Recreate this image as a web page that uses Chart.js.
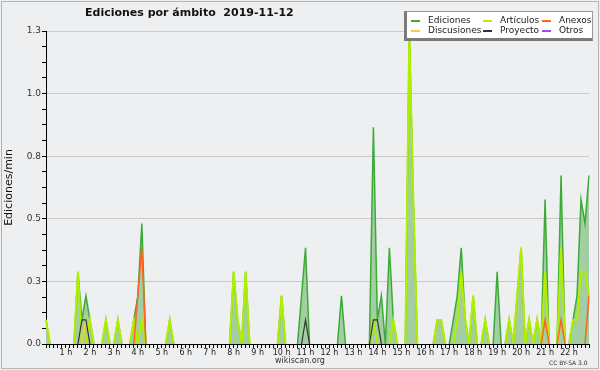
<!DOCTYPE html>
<html>
<head>
<meta charset="utf-8">
<script src="https://cdn.jsdelivr.net/npm/chart.js@4.4.1/dist/chart.umd.min.js"></script>
<style>
  body { margin: 0; background: #eeeff1; }
  #wrap { position: relative; width: 600px; height: 370px; background: #eeeff1; font-family: "DejaVu Sans", sans-serif; overflow: hidden; }
  #frame { position: absolute; left: 1px; top: 1px; width: 596px; height: 366px; border: 1px solid #b4b4b4; pointer-events: none; }
  canvas { position: absolute; left: 0; top: 0; }
  #title { position: absolute; left: 85px; top: 6px; font-size: 11px; font-weight: bold; white-space: pre; color: #111; }
  #legend { position: absolute; left: 404px; top: 11px; width: 185px; height: 26px; background: #fff;
            border-top: 1px solid #999; border-right: 1px solid #999; border-left: 3px solid #7a7a7a; border-bottom: 3px solid #7a7a7a; }
  .item { position: absolute; font-size: 9px; line-height: 10px; color: #222; white-space: nowrap; }
  .swatch { position: absolute; width: 9px; height: 1.5px; }
  #site { position: absolute; left: 0; width: 600px; top: 356px; text-align: center; font-size: 8px; color: #333; }
  #lic { position: absolute; left: 549px; top: 359px; font-size: 6px; color: #333; }
</style>
</head>
<body>
<div id="wrap">
  <canvas id="chart" width="600" height="370"></canvas>
  <div id="title">Ediciones por ámbito  2019-11-12</div>
  <div id="legend"></div>
  <div id="site">wikiscan.org</div>
  <div id="lic">CC BY-SA 3.0</div>
  <div id="frame"></div>
</div>
<script>
// Ediciones por minuto, un valor cada 10 minutos (00:00 -> 22:40)
const ediciones = [
  0.1, 0, 0, 0, 0, 0, 0, 0, 0.3, 0.1, 0.2, 0.1,
  0, 0, 0, 0.1, 0, 0, 0.1, 0, 0, 0, 0.1, 0.2,
  0.5, 0, 0, 0, 0, 0, 0, 0.1, 0, 0, 0, 0,
  0, 0, 0, 0, 0, 0, 0, 0, 0, 0, 0, 0.3,
  0.1, 0, 0.3, 0, 0, 0, 0, 0, 0, 0, 0, 0.2,
  0, 0, 0, 0, 0.2, 0.4, 0, 0, 0, 0, 0, 0,
  0, 0, 0.2, 0, 0, 0, 0, 0, 0, 0, 0.9, 0.1,
  0.2, 0, 0.4, 0.1, 0, 0, 0, 1.3, 0.6, 0, 0, 0,
  0, 0, 0.1, 0.1, 0, 0, 0.1, 0.2, 0.4, 0.1, 0, 0.2,
  0, 0, 0.1, 0, 0, 0.3, 0, 0, 0.1, 0, 0.2, 0.4,
  0, 0.1, 0, 0.1, 0, 0.6, 0, 0, 0, 0.7, 0, 0,
  0.1, 0.2, 0.6, 0.5, 0.7
];
const articulos = [
  0.1, 0, 0, 0, 0, 0, 0, 0, 0.3, 0, 0, 0.1,
  0, 0, 0, 0.1, 0, 0, 0.1, 0, 0, 0, 0.1, 0,
  0.1, 0, 0, 0, 0, 0, 0, 0.1, 0, 0, 0, 0,
  0, 0, 0, 0, 0, 0, 0, 0, 0, 0, 0, 0.3,
  0.1, 0, 0.3, 0, 0, 0, 0, 0, 0, 0, 0, 0.2,
  0, 0, 0, 0, 0, 0, 0, 0, 0, 0, 0, 0,
  0, 0, 0, 0, 0, 0, 0, 0, 0, 0, 0.1, 0,
  0, 0, 0, 0.1, 0, 0, 0, 1.3, 0.6, 0, 0, 0,
  0, 0, 0.1, 0.1, 0, 0, 0, 0.1, 0.3, 0.1, 0, 0.2,
  0, 0, 0.1, 0, 0, 0, 0, 0, 0.1, 0, 0.2, 0.4,
  0, 0.1, 0, 0.1, 0, 0.3, 0, 0, 0, 0.4, 0, 0,
  0.1, 0.1, 0.3, 0.3, 0.2
];
const anexos = [
  0, 0, 0, 0, 0, 0, 0, 0, 0, 0, 0, 0,
  0, 0, 0, 0, 0, 0, 0, 0, 0, 0, 0, 0.2,
  0.4, 0, 0, 0, 0, 0, 0, 0, 0, 0, 0, 0,
  0, 0, 0, 0, 0, 0, 0, 0, 0, 0, 0, 0,
  0, 0, 0, 0, 0, 0, 0, 0, 0, 0, 0, 0,
  0, 0, 0, 0, 0, 0, 0, 0, 0, 0, 0, 0,
  0, 0, 0, 0, 0, 0, 0, 0, 0, 0, 0, 0,
  0, 0, 0, 0, 0, 0, 0, 0, 0, 0, 0, 0,
  0, 0, 0, 0, 0, 0, 0, 0, 0, 0, 0, 0,
  0, 0, 0, 0, 0, 0, 0, 0, 0, 0, 0, 0,
  0, 0, 0, 0, 0, 0.1, 0, 0, 0, 0.1, 0, 0,
  0, 0, 0, 0, 0.2
];
const discusiones = [
  0, 0, 0, 0, 0, 0, 0, 0, 0, 0, 0.1, 0,
  0, 0, 0, 0, 0, 0, 0, 0, 0, 0, 0, 0,
  0, 0, 0, 0, 0, 0, 0, 0, 0, 0, 0, 0,
  0, 0, 0, 0, 0, 0, 0, 0, 0, 0, 0, 0,
  0, 0, 0, 0, 0, 0, 0, 0, 0, 0, 0, 0,
  0, 0, 0, 0, 0, 0, 0, 0, 0, 0, 0, 0,
  0, 0, 0, 0, 0, 0, 0, 0, 0, 0, 0, 0,
  0, 0, 0, 0, 0, 0, 0, 0, 0, 0, 0, 0,
  0, 0, 0, 0, 0, 0, 0, 0, 0, 0, 0, 0,
  0, 0, 0, 0, 0, 0, 0, 0, 0, 0, 0, 0,
  0, 0, 0, 0, 0, 0, 0, 0, 0, 0, 0, 0,
  0, 0, 0, 0, 0
];
const proyecto = [
  0, 0, 0, 0, 0, 0, 0, 0, 0, 0.1, 0.1, 0,
  0, 0, 0, 0, 0, 0, 0, 0, 0, 0, 0, 0,
  0, 0, 0, 0, 0, 0, 0, 0, 0, 0, 0, 0,
  0, 0, 0, 0, 0, 0, 0, 0, 0, 0, 0, 0,
  0, 0, 0, 0, 0, 0, 0, 0, 0, 0, 0, 0,
  0, 0, 0, 0, 0, 0.1, 0, 0, 0, 0, 0, 0,
  0, 0, 0, 0, 0, 0, 0, 0, 0, 0, 0.1, 0.1,
  0, 0, 0, 0, 0, 0, 0, 0, 0, 0, 0, 0,
  0, 0, 0, 0, 0, 0, 0, 0, 0, 0, 0, 0,
  0, 0, 0, 0, 0, 0, 0, 0, 0, 0, 0, 0,
  0, 0, 0, 0, 0, 0, 0, 0, 0, 0, 0, 0,
  0, 0, 0, 0, 0
];
const otros = ediciones.map(() => 0); // sin ediciones en "Otros"

// etiquetas de las horas (una cada 6 intervalos de 10 min)
const hourLabels = ['1 h', '2 h', '3 h', '4 h', '5 h', '6 h', '7 h', '8 h', '9 h', '10 h', '11 h',
  '12 h', '13 h', '14 h', '15 h', '16 h', '17 h', '18 h', '19 h', '20 h', '21 h', '22 h'];
const yTickValues = [0, 0.26, 0.52, 0.78, 1.04, 1.3];
const yTickLabels = ['0.0', '0.3', '0.5', '0.8', '1.0', '1.3'];

const slots = ediciones.map((_, i) => String(Math.floor(i / 6)).padStart(2, '0') + ':' + (i % 6) + '0');

const series = [
  { name: 'Ediciones', data: ediciones, color: '#3cab38', width: 1.5, order: 6 },
  { name: 'Artículos', data: articulos, color: '#b2ee00', width: 2, order: 5 },
  { name: 'Anexos', data: anexos, color: '#ff6420', width: 1.5, order: 3 },
  { name: 'Discusiones', data: discusiones, color: '#ffcc33', width: 1.5, order: 4 },
  { name: 'Proyecto', data: proyecto, color: '#333333', width: 1.2, order: 2 },
  { name: 'Otros', data: otros, color: '#9a4df0', width: 1.5, order: 1 }
];

// ocultar tramos en cero (quedan bajo el eje)
const hideZero = (ctx) => (ctx.p0.parsed.y === 0 && ctx.p1.parsed.y === 0) ? 'rgba(0,0,0,0)' : undefined;

const isMajor = (v) => yTickValues.some(t => Math.abs(t - v) < 1e-6);

Chart.defaults.font.family = '"DejaVu Sans", sans-serif';
Chart.defaults.color = '#333';

const ctx = document.getElementById('chart').getContext('2d');
const chart = new Chart(ctx, {
  type: 'line',
  data: {
    labels: slots,
    datasets: series.map(s => ({
      label: s.name,
      data: s.data,
      borderColor: s.color,
      backgroundColor: s.name === 'Ediciones' ? '#a2cea2' : s.color,
      fill: s.name === 'Ediciones' ? 'origin' : false,
      borderWidth: s.width,
      pointRadius: 0,
      tension: 0,
      order: s.order,
      segment: { borderColor: hideZero }
    }))
  },
  options: {
    responsive: false,
    animation: false,
    layout: { padding: { top: 31, right: 11, bottom: 0, left: 0 } },
    plugins: {
      legend: { display: false },
      tooltip: { enabled: false }
    },
    scales: {
      x: {
        type: 'category',
        offset: false,
        afterFit: (scale) => { scale.height = 26; },
        border: { color: '#000', width: 1 },
        grid: { drawOnChartArea: false, drawTicks: true, tickLength: 4, tickColor: '#000' },
        ticks: {
          autoSkip: false,
          maxRotation: 0,
          minRotation: 0,
          padding: 0,
          labelOffset: -4,
          color: '#222',
          font: { size: 8 },
          callback: (val, idx) => (idx > 0 && idx % 6 === 0) ? hourLabels[idx / 6 - 1] : ''
        }
      },
      y: {
        min: 0,
        max: 1.3,
        afterFit: (scale) => { scale.width = 46; },
        afterBuildTicks: (scale) => {
          const ticks = [];
          for (let k = 0; k <= 20; k++) ticks.push({ value: k * 0.065 });
          scale.ticks = ticks;
        },
        border: { color: '#000', width: 1 },
        grid: {
          color: (c) => (c.tick && isMajor(c.tick.value)) ? '#c9c9c9' : 'rgba(0,0,0,0)',
          tickColor: '#000',
          tickLength: 4,
          lineWidth: 1
        },
        ticks: {
          padding: 1,
          color: '#333',
          font: { size: 9 },
          callback: (val) => {
            const i = yTickValues.findIndex(t => Math.abs(t - val) < 1e-6);
            return i >= 0 ? yTickLabels[i] : '';
          }
        },
        title: {
          display: true,
          text: 'Ediciones/min',
          color: '#111',
          font: { size: 11 },
          padding: { top: 3, bottom: 0 }
        }
      }
    }
  }
});

// leyenda en tres columnas, como en el original
const legend = document.getElementById('legend');
const legendPos = [
  ['Ediciones', 4, 3], ['Artículos', 76, 3], ['Anexos', 135, 3],
  ['Discusiones', 4, 13], ['Proyecto', 76, 13], ['Otros', 135, 13]
];
legendPos.forEach(([name, x, y]) => {
  const s = series.find(d => d.name === name);
  const sw = document.createElement('div');
  sw.className = 'swatch';
  sw.style.left = x + 'px';
  sw.style.top = (y + 5) + 'px';
  sw.style.background = s.color;
  legend.appendChild(sw);
  const t = document.createElement('div');
  t.className = 'item';
  t.style.left = (x + 17) + 'px';
  t.style.top = y + 'px';
  t.textContent = name;
  legend.appendChild(t);
});
</script>
</body>
</html>
